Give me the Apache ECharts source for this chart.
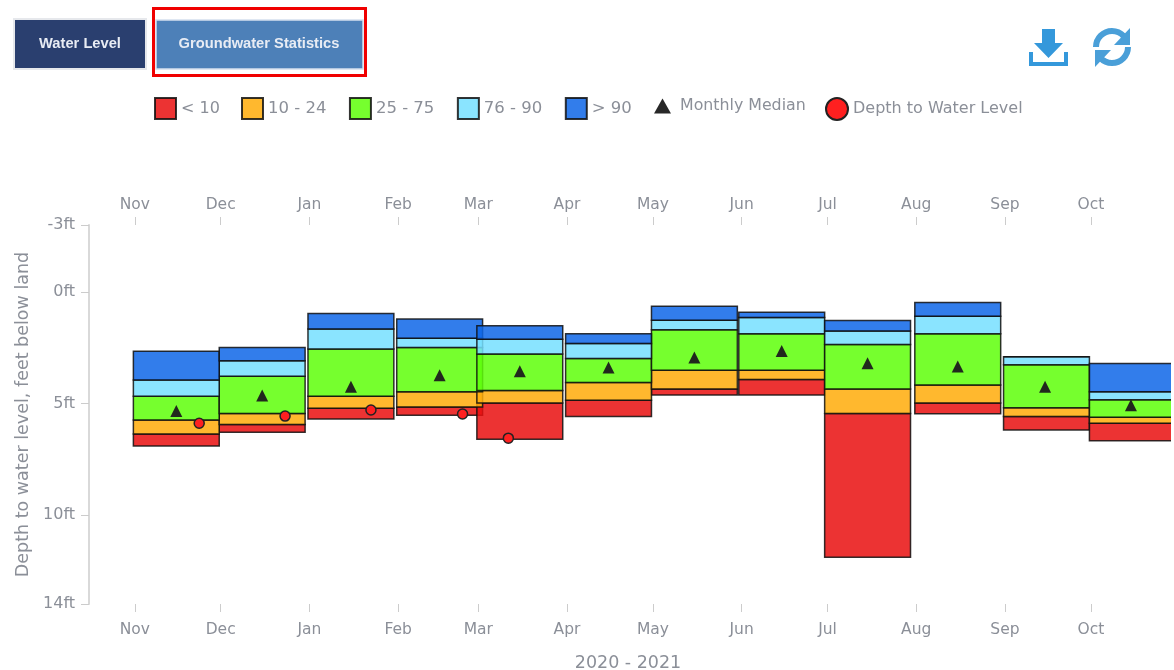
<!DOCTYPE html>
<html>
<head>
<meta charset="utf-8">
<title>Groundwater Statistics</title>
<script src="https://cdn.jsdelivr.net/npm/echarts@6/dist/echarts.min.js"></script>
<style>
    html, body { margin: 0; padding: 0; background: #fff; overflow: hidden; }
    #main { width: 1174px; height: 670px; }
</style>
</head>
<body>
<div id="main"></div>
<script>
// x is days since 1 Nov 2020. Month boxes are all 30 days wide
var monthLabels = ['Nov', 'Dec', 'Jan', 'Feb', 'Mar', 'Apr', 'May', 'Jun', 'Jul', 'Aug', 'Sep', 'Oct'];
var monthTicks = [0, 30, 61, 92, 120, 151, 181, 212, 242, 273, 304, 334];
var boxStarts = [-0.5, 29.5, 60.5, 91.5, 119.5, 150.5, 180.5, 211, 241, 272.5, 303.5, 333.5];
var medianDays = [14.5, 44.5, 75.5, 106.5, 134.5, 165.5, 195.5, 226, 256, 287.5, 318, 348];

// Percentile band edges, feet below land
var edge90 = [2.66, 2.49, 0.97, 1.22, 1.52, 1.88, 0.65, 0.91, 1.28, 0.48, 2.91, 3.21];
var edge76 = [3.95, 3.09, 1.66, 2.08, 2.12, 2.31, 1.27, 1.15, 1.76, 1.09, 2.91, 4.48];
var edge75 = [4.68, 3.78, 2.56, 2.49, 2.79, 2.99, 1.70, 1.88, 2.36, 1.88, 3.27, 4.84];
var edge25 = [5.75, 5.45, 4.68, 4.48, 4.42, 4.06, 3.51, 3.51, 4.36, 4.18, 5.20, 5.62];
var edge10 = [6.37, 5.95, 5.22, 5.16, 4.98, 4.86, 4.36, 3.93, 5.45, 4.98, 5.59, 5.89];
var edgeMin = [6.91, 6.30, 5.70, 5.53, 6.61, 5.59, 4.62, 4.62, 11.90, 5.47, 6.19, 6.68];

var medians = [5.34, 4.65, 4.26, 3.74, 3.56, 3.39, 2.94, 2.65, 3.20, 3.35, 4.26, 5.09];

var waterDays = [22.5, 52.5, 82.5, 114.5, 130.5];
var waterDepths = [5.89, 5.57, 5.30, 5.48, 6.56];

var yTicks = [-3, 0, 5, 10, 14];

var myChart = echarts.init(document.getElementById('main'));

var BOX_DAYS = 30;
var labelColor = '#8b8f98';
var textFont = 'DejaVu Sans';

function bandData(top, bottom) {
    return boxStarts.map(function (t, i) { return [t, top[i], bottom[i]]; });
}

function renderBox(params, api) {
    var a = api.coord([api.value(0), api.value(1)]);
    var b = api.coord([api.value(0) + BOX_DAYS, api.value(2)]);
    return {
        type: 'rect',
        shape: { x: a[0], y: a[1], width: b[0] - a[0], height: b[1] - a[1] },
        style: api.style()
    };
}

function band(name, color, top, bottom) {
    return {
        name: name,
        type: 'custom',
        clip: true,
        renderItem: renderBox,
        encode: { x: 0, y: [1, 2] },
        itemStyle: { color: color, borderColor: '#111', borderWidth: 1.5, opacity: 0.85 },
        data: bandData(top, bottom)
    };
}

function dayAxis(position, showName, labelMargin) {
    return {
        type: 'value',
        position: position,
        min: -16,
        max: 362,
        name: showName ? '2020 - 2021' : '',
        nameLocation: 'middle',
        nameGap: 50,
        nameTextStyle: { color: labelColor, fontFamily: textFont, fontSize: 17.5, padding: [0, 4, 0, 0] },
        axisLine: { show: false, onZero: false },
        axisTick: { show: true, length: 8, customValues: monthTicks, lineStyle: { color: '#ccc', width: 1 } },
        axisLabel: {
            show: true,
            customValues: monthTicks,
            margin: labelMargin,
            color: labelColor,
            fontFamily: textFont,
            fontSize: 15.5,
            formatter: function (v) {
                return monthLabels[monthTicks.indexOf(v)] || '';
            }
        },
        splitLine: { show: false }
    };
}

var option = {
    animation: false,
    backgroundColor: '#fff',
    grid: { left: 89, right: 3, top: 225, bottom: 66, outerBoundsMode: 'none' },
    legend: [
        {
            left: 154, top: 97, padding: 0, itemWidth: 21, itemHeight: 21, selectedMode: false,
            icon: 'rect',
            textStyle: { color: labelColor, fontFamily: textFont, fontSize: 16 },
            data: ['< 10']
        },
        {
            left: 241, top: 97, padding: 0, itemWidth: 21, itemHeight: 21, itemGap: 22.5, selectedMode: false,
            icon: 'rect',
            textStyle: { color: labelColor, fontFamily: textFont, fontSize: 16.5 },
            data: ['10 - 24', '25 - 75', '76 - 90', '> 90']
        },
        {
            left: 654, top: 98, padding: 0, itemWidth: 17, itemHeight: 15, selectedMode: false,
            textStyle: { color: labelColor, fontFamily: textFont, fontSize: 15.8, padding: [6, 0, 0, 4] },
            data: [{ name: 'Monthly Median', icon: 'triangle' }]
        },
        {
            left: 825, top: 97, padding: 0, itemWidth: 22, itemHeight: 22, selectedMode: false,
            textStyle: { color: labelColor, fontFamily: textFont, fontSize: 16 },
            data: [{ name: 'Depth to Water Level', icon: 'circle' }]
        }
    ],
    xAxis: [dayAxis('bottom', true, 18), dayAxis('top', false, 12)],
    yAxis: {
        type: 'value',
        inverse: true,
        min: -3,
        max: 14,
        name: 'Depth to water level, feet below land',
        nameLocation: 'middle',
        nameGap: 57,
        nameTextStyle: { color: labelColor, fontFamily: textFont, fontSize: 17.5 },
        axisLine: { show: true, onZero: false, lineStyle: { color: '#d9d9d9', width: 2 } },
        axisTick: { show: true, length: 8, customValues: yTicks, lineStyle: { color: '#ccc' } },
        axisLabel: {
            customValues: yTicks,
            margin: 14,
            color: labelColor,
            fontFamily: textFont,
            fontSize: 16,
            formatter: '{value}ft'
        },
        splitLine: { show: false }
    },
    series: [
        band('< 10', '#e90f0f', edge10, edgeMin),
        band('10 - 24', '#ffab09', edge25, edge10),
        band('25 - 75', '#5eff09', edge75, edge25),
        band('76 - 90', '#75dfff', edge76, edge75),
        band('> 90', '#0e66e7', edge90, edge76),
        {
            name: 'Monthly Median',
            type: 'scatter',
            symbol: 'triangle',
            symbolSize: 12,
            z: 5,
            itemStyle: { color: '#1c1c1c', opacity: 0.95 },
            data: medianDays.map(function (d, i) { return [d, medians[i]]; })
        },
        {
            name: 'Depth to Water Level',
            type: 'scatter',
            symbol: 'circle',
            symbolSize: 10,
            z: 6,
            itemStyle: { color: '#ff2020', borderColor: '#222', borderWidth: 1.5, opacity: 1 },
            data: waterDays.map(function (d, i) { return [d, waterDepths[i]]; })
        }
    ],
    // Buttons and toolbar icons above the chart
    graphic: [
        { type: 'rect', shape: { x: 14, y: 19, width: 132, height: 50 }, style: { fill: '#2a3f6f', stroke: '#e6e8ec', lineWidth: 2 } },
        { type: 'text', x: 80, y: 44, style: { text: 'Water Level', fill: '#e8ecf4', font: 'bold 14.7px "Liberation Sans"', align: 'center', verticalAlign: 'middle' } },
        { type: 'rect', shape: { x: 153.5, y: 8.5, width: 212, height: 67 }, style: { fill: 'none', stroke: '#f00000', lineWidth: 3 } },
        { type: 'rect', shape: { x: 156, y: 20, width: 207, height: 49 }, style: { fill: '#4d80b8', stroke: '#d5e0ee', lineWidth: 1.5 } },
        { type: 'text', x: 259, y: 44, style: { text: 'Groundwater Statistics', fill: '#e8ecf4', font: 'bold 14.7px "Liberation Sans"', align: 'center', verticalAlign: 'middle' } },
        { type: 'polygon', shape: { points: [[1042, 29], [1055, 29], [1055, 43], [1063, 43], [1048.5, 58], [1034, 43], [1042, 43]] }, style: { fill: '#3498db' } },
        { type: 'polygon', shape: { points: [[1029, 52], [1033, 52], [1033, 62], [1064, 62], [1064, 52], [1068, 52], [1068, 66], [1029, 66]] }, style: { fill: '#3498db' } },
        { type: 'arc', shape: { cx: 1112, cy: 47, r: 16, startAngle: Math.PI, endAngle: -0.75, clockwise: true }, style: { fill: 'none', stroke: '#4a9fd8', lineWidth: 6 } },
        { type: 'arc', shape: { cx: 1112, cy: 47, r: 16, startAngle: 0, endAngle: Math.PI - 0.75, clockwise: true }, style: { fill: 'none', stroke: '#4a9fd8', lineWidth: 6 } },
        { type: 'polygon', shape: { points: [[1130, 28], [1130, 45], [1114, 45]] }, style: { fill: '#4a9fd8' } },
        { type: 'polygon', shape: { points: [[1095, 67], [1095, 50], [1111, 50]] }, style: { fill: '#4a9fd8' } }
    ]
};

myChart.setOption(option);
</script>
</body>
</html>
